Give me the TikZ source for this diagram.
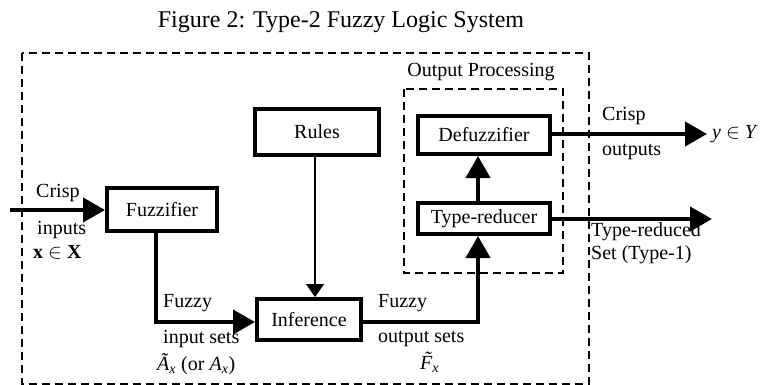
\documentclass[tikz,border=0pt]{standalone}
\usepackage{fontspec}
\setmainfont{Liberation Serif}
\usetikzlibrary{arrows.meta}
\newcommand{\tildeF}{{\itshape\rlap{\hspace{0.2em}\raisebox{0.2em}{\char"02DC}}F}}
\begin{document}
\begin{tikzpicture}[x=1pt,y=-1pt,
  blk/.style={draw,line width=4pt,inner sep=0pt,font=\fontsize{20}{22}\selectfont},
  lbl/.style={inner sep=0pt,font=\fontsize{20}{22}\selectfont,anchor=west},
  arr/.style={line width=4pt,-{Triangle[length=22pt,width=24pt]}},
  thinarr/.style={line width=1.3pt,-{Triangle[length=13pt,width=18pt]}},
  dashbox/.style={line width=1.8pt,dash pattern=on 8pt off 5pt}]
\useasboundingbox (0,0) rectangle (760,385);
\node[inner sep=0pt,font=\fontsize{24}{28}\selectfont] (title) at (341,22) {Figure 2: Type-2 Fuzzy Logic System};
\draw[dashbox] (22,53) rectangle (589,384);
\draw[dashbox] (404,89) rectangle (563,273);
\node[inner sep=0pt,font=\fontsize{20}{22}\selectfont] (op) at (481,72) {Output Processing};
\node[blk,minimum width=110pt,minimum height=43pt] (fz) at (162,209.5) {Fuzzifier};
\node[blk,minimum width=124pt,minimum height=46pt] (ru) at (317,132) {Rules};
\node[blk,minimum width=104pt,minimum height=41pt] (inf) at (309,319.5) {Inference};
\node[blk,minimum width=132pt,minimum height=38pt] (dz) at (484,135) {Defuzzifier};
\node[blk,minimum width=132pt,minimum height=31pt] (tr) at (484,218.5) {Type-reducer};
\coordinate (in) at (10,210);
\coordinate (fx) at (156,0);
\coordinate (lv) at (0,322);
\coordinate (up) at (478,0);
\coordinate (rx) at (315,0);
\coordinate (out1) at (707,134);
\coordinate (out2) at (712,219);
\draw[arr] (in) -- (in -| fz.west);
\draw[arr] (fz.south -| fx) -- (fx |- lv) -- (lv -| inf.west);
\draw[thinarr] (ru.south -| rx) -- (inf.north -| rx);
\draw[arr] (lv -| inf.east) -- (lv -| up) -- (tr.south -| up);
\draw[arr] (tr.north -| up) -- (dz.south -| up);
\draw[arr] (dz.east |- out1) -- (out1);
\draw[arr] (tr.east |- out2) -- (out2);
\node[lbl] (l1) at (36,193) {Crisp};
\node[lbl] (l2) at (37,230) {inputs};
\node[lbl] (l3) at (33,252) {\textbf{x} $\in$ \textbf{X}};
\node[lbl] (l4) at (163,303) {Fuzzy};
\node[lbl] (l5) at (163,339) {input sets};
\node[lbl] (l6) at (157,364) {\textit{\~A}\textsubscript{\textit{x}} (or \textit{A}\textsubscript{\textit{x}})};
\node[lbl] (l7) at (378,303) {Fuzzy};
\node[lbl] (l8) at (378,339) {output sets};
\node[lbl] (l9) at (420,362) {\tildeF\textsubscript{\textit{x}}};
\node[lbl] (l10) at (602,116) {Crisp};
\node[lbl] (l11) at (602,152) {outputs};
\node[lbl] (l12) at (712,134) {\textit{y} $\in$ \textit{Y}};
\node[lbl] (l13) at (591,232) {Type-reduced};
\node[lbl] (l14) at (591,255) {Set (Type-1)};
\end{tikzpicture}
\end{document}
